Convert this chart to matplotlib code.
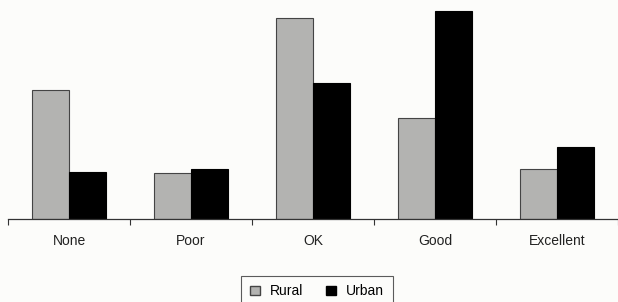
import matplotlib
matplotlib.use('Agg')
import matplotlib.pyplot as plt
import matplotlib.patches as mpatches
import numpy as np

# values (arbitrary units)
categories = ['None', 'Poor', 'OK', 'Good', 'Excellent']
rural = [129, 46, 201, 101, 50]
urban = [47, 50, 136, 208, 72]

plt.rcParams['font.family'] = ['Liberation Sans', 'DejaVu Sans']

W, H = 618, 302
slot = 124.0   # pixels per category
left = 8.0
fig = plt.figure(figsize=(W / 100, H / 100), dpi=100)
fig.patch.set_facecolor('#fcfcfa')

# axes placed in pixels: baseline at y=219
ax = fig.add_axes([left / W, (H - 219) / H, (W - left) / W, (219 - 5) / H])
ax.set_facecolor('#fcfcfa')

x = np.arange(len(categories))
bw = 0.3
ax.bar(x - bw / 2, rural, bw, color='#b3b3b1', edgecolor='#444444', linewidth=0.8)
ax.bar(x + bw / 2, urban, bw, color='black', edgecolor='black', linewidth=0.8)

ax.set_xlim(-0.5, (W - left) / slot - 0.5)
ax.set_ylim(0, 214)

for s in ['top', 'right', 'left']:
    ax.spines[s].set_visible(False)
ax.spines['bottom'].set_color('#333333')
ax.spines['bottom'].set_linewidth(0.9)
ax.set_yticks([])

# tick marks at category boundaries, labels at centres
ax.set_xticks(np.arange(-0.5, len(categories), 1.0))
ax.set_xticklabels([])
ax.tick_params(axis='x', which='major', length=4, width=0.8, color='#333333')
ax.set_xticks(x, minor=True)
ax.set_xticklabels(categories, minor=True, fontsize=10)
ax.tick_params(axis='x', which='minor', length=0, pad=11, labelcolor='#222222')

grey_patch = mpatches.Patch(facecolor='#b3b3b1', edgecolor='#444444', label='Rural')
black_patch = mpatches.Patch(facecolor='black', edgecolor='black', label='Urban')
leg = fig.legend(handles=[grey_patch, black_patch], loc='upper center',
                 bbox_to_anchor=(317 / W, 1 - 276 / H), ncol=2, fontsize=10,
                 frameon=True, fancybox=False, handlelength=0.72, handleheight=0.72,
                 columnspacing=1.7, handletextpad=0.7, borderpad=0.6,
                 borderaxespad=0)
leg.get_frame().set_edgecolor('#333333')
leg.get_frame().set_linewidth(0.8)
leg.get_frame().set_facecolor('#fcfcfa')

fig.savefig('out.png', dpi=100, facecolor=fig.get_facecolor())
